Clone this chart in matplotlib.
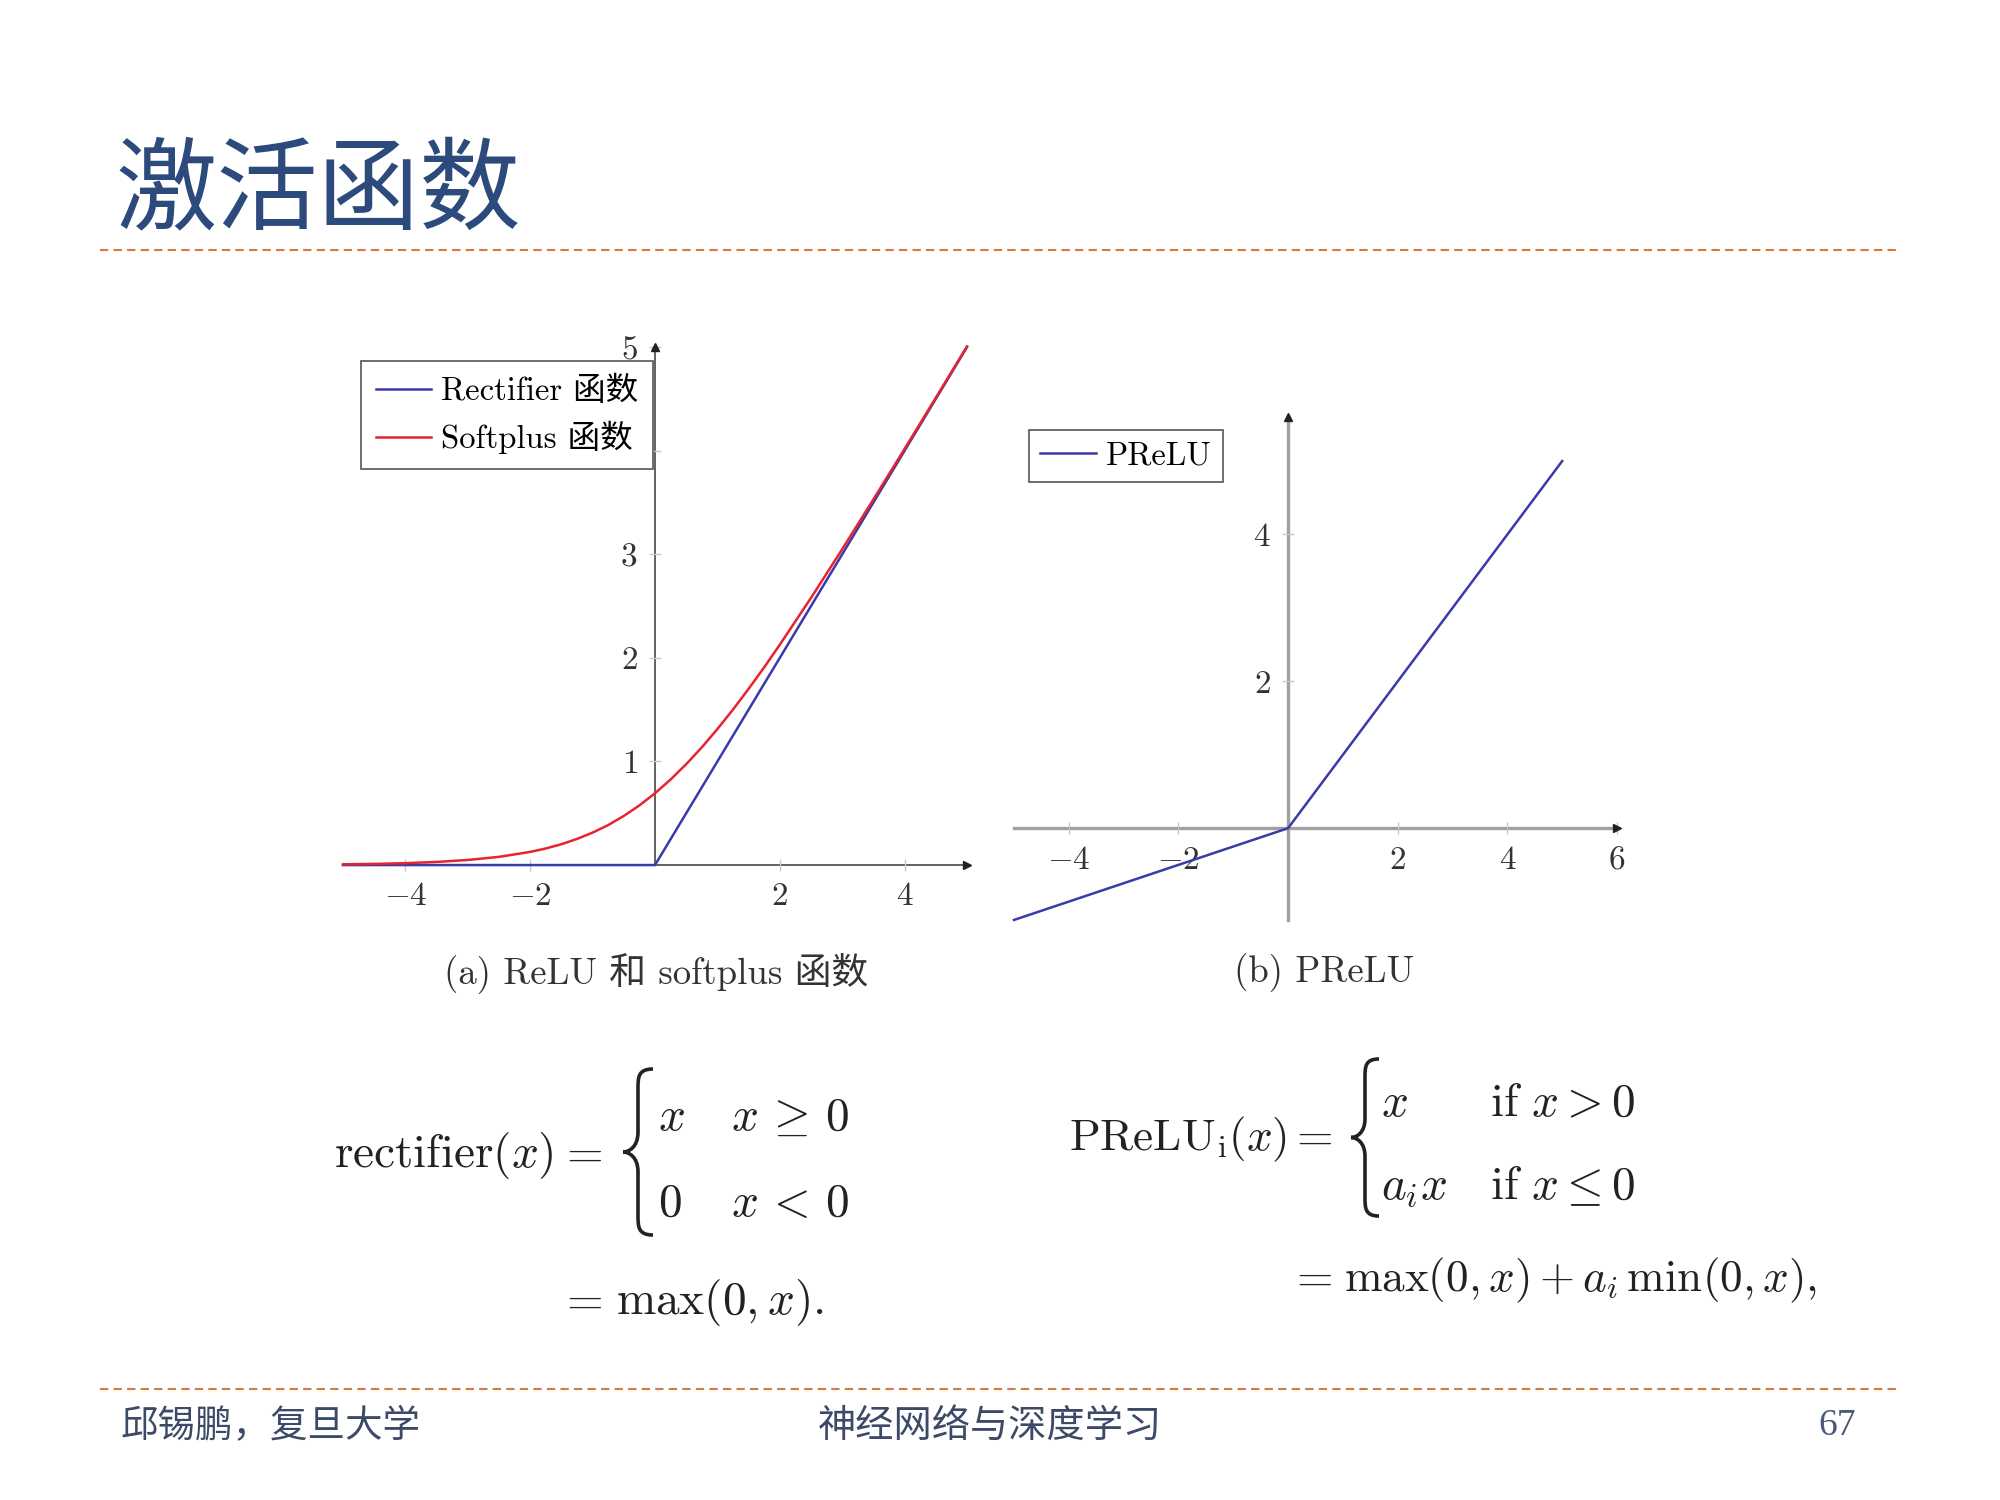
import matplotlib
matplotlib.use('Agg')
import matplotlib.pyplot as plt
from matplotlib.path import Path
from matplotlib.patches import PathPatch

plt.rcParams['mathtext.fontset'] = 'cm'
plt.rcParams['font.family'] = ['cmr10', 'Noto Sans CJK SC', 'DejaVu Sans']
plt.rcParams['axes.formatter.use_mathtext'] = True

# ---- data ----
relu_x = [-5, 0, 5]
relu_y = [0, 0, 5]

softplus_x = [-5, -4.5, -4, -3.5, -3, -2.5, -2, -1.75, -1.5, -1.25, -1, -0.75, -0.5, -0.25,
              0, 0.25, 0.5, 0.75, 1, 1.25, 1.5, 1.75, 2, 2.5, 3, 3.5, 4, 4.5, 5]
softplus_y = [0.007, 0.011, 0.018, 0.030, 0.049, 0.079, 0.127, 0.160, 0.201, 0.252, 0.313, 0.386, 0.474, 0.576,
              0.693, 0.826, 0.974, 1.136, 1.313, 1.501, 1.701, 1.909, 2.127, 2.579, 3.049, 3.530, 4.018, 4.511, 5.007]

prelu_x = [-5, 0, 5]
prelu_y = [-1.25, 0, 5]

left_xticks = [-4, -2, 2, 4]
left_yticks = [1, 2, 3, 4, 5]
left_ylabels = ['1', '2', '3', '', '5']   # the "4" sits under the legend box
right_xticks = [-4, -2, 2, 4, 6]
right_yticks = [2, 4]

title = '激活函数'
caption_a = '(a) ReLU 和 softplus 函数'
caption_b = '(b) PReLU'
footer_left = '邱锡鹏，复旦大学'
footer_mid = '神经网络与深度学习'
page_no = '67'

blue = '#3a3aa8'
red = '#e8232e'
orange = '#d9793f'
navy = '#2c4a7c'

fig = plt.figure(figsize=(20, 15), dpi=100)

# background layer in pixel coordinates (y down)
bg = fig.add_axes([0, 0, 1, 1])
bg.set_xlim(0, 2000)
bg.set_ylim(1500, 0)
bg.axis('off')

bg.text(115, 192, title, fontsize=73, color=navy, family='Noto Sans CJK SC', va='center', ha='left')
for yy in (250, 1389):
    bg.plot([100, 1900], [yy, yy], color=orange, lw=1.5, dashes=(4, 2.5))

bg.text(121, 1426, footer_left, fontsize=27, color='#3c4a68', family='Noto Sans CJK SC', va='center')
bg.text(990, 1426, footer_mid, fontsize=27.5, color='#3c4a68', family='Noto Sans CJK SC', va='center', ha='center')
bg.text(1856, 1426, page_no, fontsize=27, color='#4a5a78', family='Liberation Serif', va='center', ha='right')

bg.text(656, 973, caption_a, fontsize=26.5, color='#333333', ha='center', va='center')
bg.text(1324, 973, caption_b, fontsize=26.5, color='#333333', ha='center', va='center')


def brace(ax, x, y0, y1, w, lw=2.6):
    h = y1 - y0
    m = (y0 + y1) / 2
    xm = x + w * 0.5
    verts = [(x + w, y0),
             (xm, y0), (xm, y0 + 0.05 * h), (xm, y0 + 0.12 * h),
             (xm, m - 0.12 * h),
             (xm, m - 0.03 * h), (x + w * 0.2, m), (x, m),
             (x + w * 0.2, m), (xm, m + 0.03 * h), (xm, m + 0.12 * h),
             (xm, y1 - 0.12 * h),
             (xm, y1 - 0.05 * h), (xm, y1), (x + w, y1)]
    codes = [Path.MOVETO] + [Path.CURVE4] * 3 + [Path.LINETO] + [Path.CURVE4] * 6 + \
            [Path.LINETO] + [Path.CURVE4] * 3
    ax.add_patch(PathPatch(Path(verts, codes), fc='none', ec='#222222', lw=lw))


fs = 34
tc = '#222222'
# rectifier formula
bg.text(334, 1167, r'$\mathrm{rectifier}(x)$', fontsize=fs, color=tc, va='baseline')
bg.text(558, 1167, r'$=$', fontsize=fs, color=tc, va='baseline')
brace(bg, 623, 1069, 1235, 30)
bg.text(658, 1130, r'$x$', fontsize=fs, color=tc, va='baseline')
bg.text(731, 1130, r'$x\,\geq\,0$', fontsize=fs, color=tc, va='baseline')
bg.text(658, 1216, r'$0$', fontsize=fs, color=tc, va='baseline')
bg.text(731, 1216, r'$x\,<\,0$', fontsize=fs, color=tc, va='baseline')
bg.text(558, 1314, r'$=$', fontsize=fs, color=tc, va='baseline')
bg.text(616, 1314, r'$\max(0, x).$', fontsize=fs, color=tc, va='baseline')

# PReLU formula
bg.text(1069, 1150, r'$\mathrm{PReLU}_\mathrm{i}(x)$', fontsize=32.5, color=tc, va='baseline')
bg.text(1288, 1150, r'$=$', fontsize=fs, color=tc, va='baseline')
brace(bg, 1351, 1059, 1216, 28)
bg.text(1381, 1116, r'$x$', fontsize=fs, color=tc, va='baseline')
bg.text(1490, 1116, r'$\mathrm{if}\ x > 0$', fontsize=fs, color=tc, va='baseline')
bg.text(1381, 1199, r'$a_i x$', fontsize=fs, color=tc, va='baseline')
bg.text(1490, 1199, r'$\mathrm{if}\ x \leq 0$', fontsize=fs, color=tc, va='baseline')
bg.text(1288, 1291, r'$=$', fontsize=fs, color=tc, va='baseline')
bg.text(1344, 1291, r'$\max(0, x) + a_i\,\min(0, x),$', fontsize=32.5, color=tc, va='baseline')


def style_axes(ax, spine_color, spine_lw):
    ax.set_facecolor('none')
    for s in ('top', 'right'):
        ax.spines[s].set_visible(False)
    for s in ('left', 'bottom'):
        ax.spines[s].set_position(('data', 0))
        ax.spines[s].set_color(spine_color)
        ax.spines[s].set_linewidth(spine_lw)
        ax.spines[s].set_zorder(1)
    ax.tick_params(direction='inout', length=9, width=1, color='#c8c8c8',
                   labelsize=24, labelcolor='#333333')
    ax.tick_params(axis='x', pad=8)
    ax.tick_params(axis='y', pad=8)
    ax.plot(1, 0, '>', color='#222222', ms=6, transform=ax.get_yaxis_transform(), clip_on=False)
    ax.plot(0, 1, '^', color='#222222', ms=6, transform=ax.get_xaxis_transform(), clip_on=False)


# ---- left: ReLU and softplus ----
ax1 = fig.add_axes([0.1715, 0.4233, 0.312, 0.3453])
ax1.set_xlim(-5, 5)
ax1.set_ylim(0, 5)
style_axes(ax1, '#555555', 1.3)
ax1.plot(relu_x, relu_y, color=blue, lw=1.8, label='Rectifier 函数', clip_on=False, zorder=3)
ax1.plot(softplus_x, softplus_y, color=red, lw=1.8, label='Softplus 函数', clip_on=False, zorder=3)
ax1.set_xticks(left_xticks)
ax1.set_xticklabels([r'$%d$' % v for v in left_xticks])
ax1.set_yticks(left_yticks)
ax1.set_yticklabels([r'$%s$' % v if v else '' for v in left_ylabels])
leg1 = ax1.legend(loc='upper left', bbox_to_anchor=(0.029, 0.973), borderaxespad=0,
                  fontsize=23.5, fancybox=False, framealpha=1, edgecolor='#555555',
                  handlelength=1.7, handletextpad=0.3, borderpad=0.45, labelspacing=0.45)
leg1.get_frame().set_linewidth(1.2)
leg1.set_zorder(5)

# ---- right: PReLU ----
ax2 = fig.add_axes([0.507, 0.3867, 0.3015, 0.3353])
ax2.set_xlim(-5, 6)
ax2.set_ylim(-1.25, 5.6)
style_axes(ax2, '#a0a0a0', 2.4)
ax2.plot(prelu_x, prelu_y, color=blue, lw=1.8, label='PReLU', clip_on=False, zorder=3)
ax2.set_xticks(right_xticks)
ax2.set_xticklabels([r'$%d$' % v for v in right_xticks])
ax2.set_yticks(right_yticks)
ax2.set_yticklabels([r'$%d$' % v for v in right_yticks])
leg2 = ax2.legend(loc='upper left', bbox_to_anchor=(0.025, 0.974), borderaxespad=0,
                  fontsize=23.5, fancybox=False, framealpha=1, edgecolor='#555555',
                  handlelength=1.7, handletextpad=0.3, borderpad=0.35)
leg2.get_frame().set_linewidth(1.2)

fig.savefig('out.png', dpi=100, facecolor='white')
